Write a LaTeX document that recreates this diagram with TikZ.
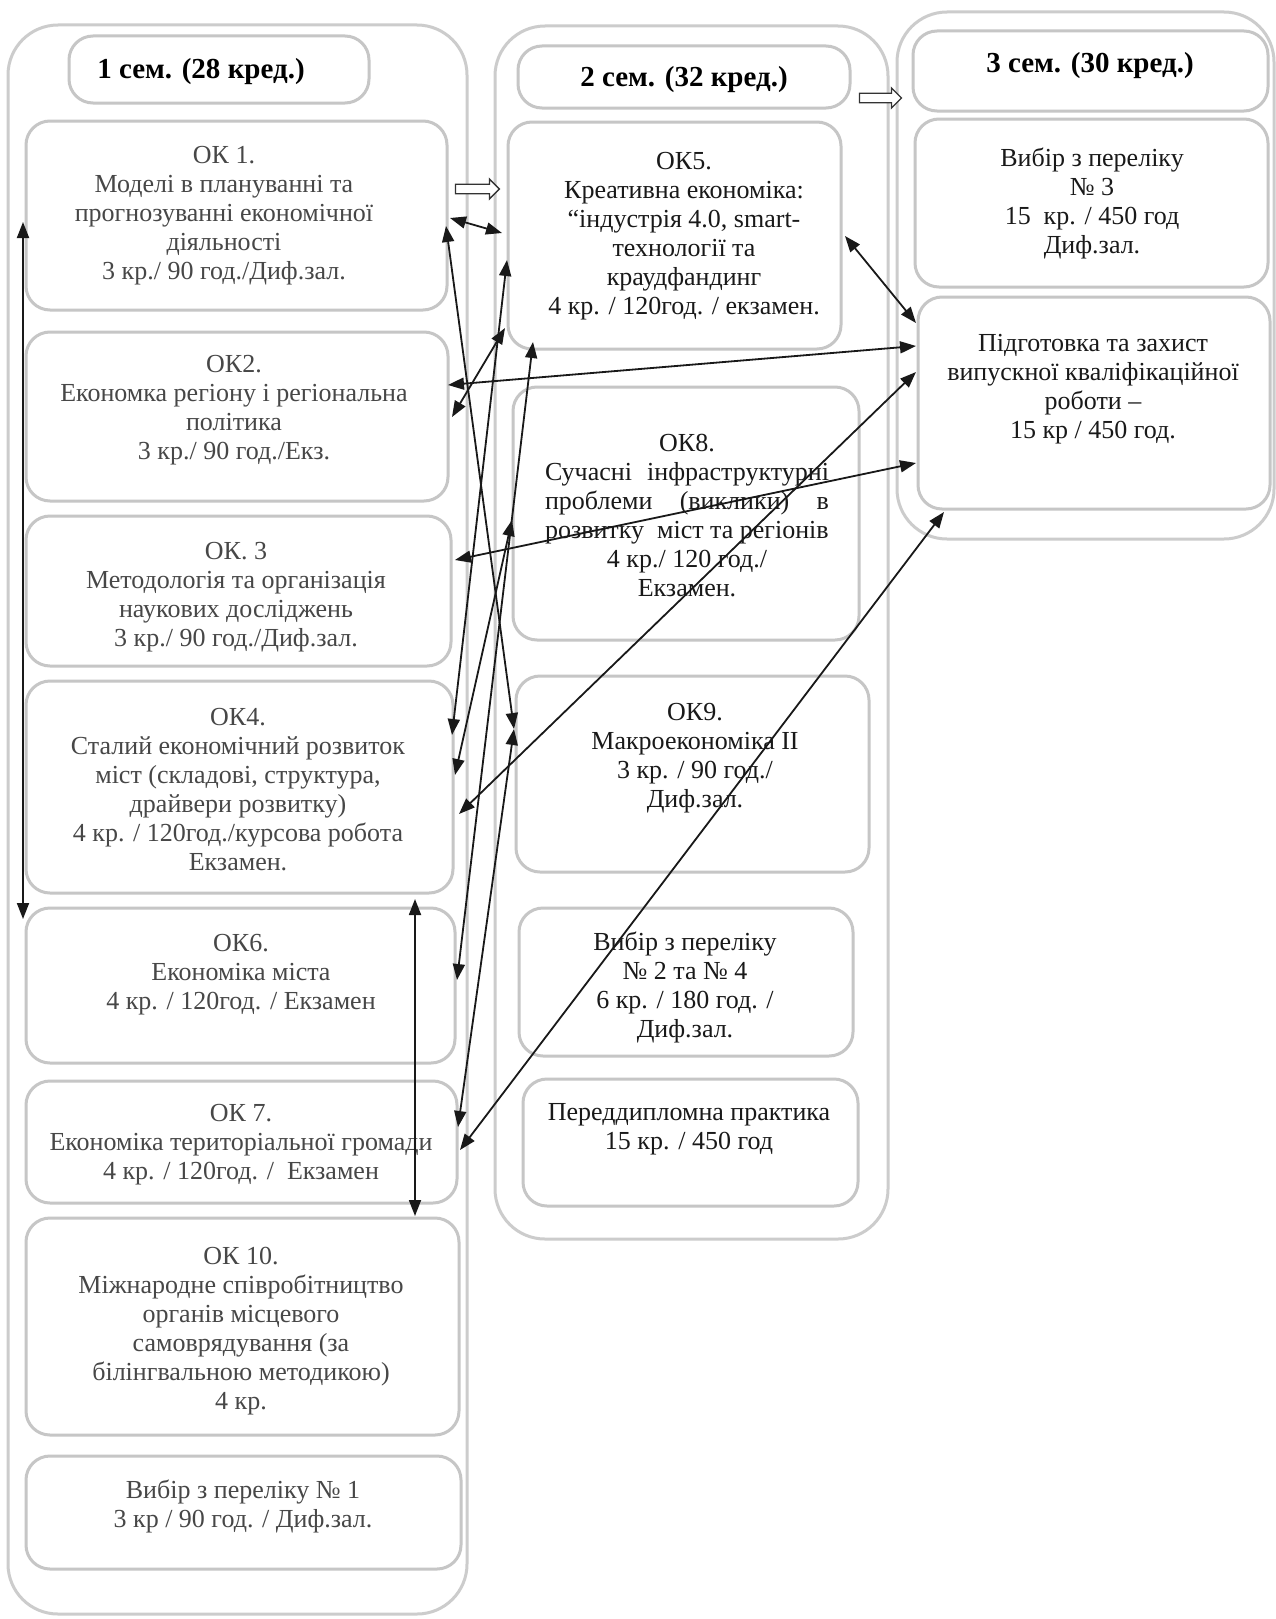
\documentclass[tikz,border=0pt]{standalone}
\usepackage{fontspec}
\setmainfont{Liberation Serif}
\usetikzlibrary{arrows.meta,shapes.arrows}
\newcommand\BoxC[5]{\node[box, minimum width={(#4-#2)*1pt}, minimum height={(#5-#3)*1pt}] (#1) at ({(#2+#4)/2},{(#3+#5)/2}) {};}
\newcommand\OuterC[5]{\node[outerbox, minimum width={(#4-#2)*1pt}, minimum height={(#5-#3)*1pt}] (#1) at ({(#2+#4)/2},{(#3+#5)/2}) {};}
\begin{document}
\begin{tikzpicture}[x=1pt,y=-1pt,
  box/.style={draw=gray!45, line width=3pt, rounded corners=24pt, inner sep=0pt, rectangle},
  outerbox/.style={draw=gray!40, line width=3pt, rounded corners=50pt, inner sep=0pt, rectangle},
  txt/.style={align=center, font=\fontsize{26}{29}\selectfont, inner sep=0pt, text=black!90},
  ltxt/.style={txt, text=black!72},
  hdr/.style={font=\fontsize{29}{34}\selectfont\bfseries, inner sep=0pt},
  link/.style={{Triangle[length=16pt,width=12pt]}-{Triangle[length=16pt,width=12pt]}, line width=1.8pt, draw=black!90},
  hollow/.style={single arrow, draw=black!80, line width=1.3pt, fill=white, minimum width=20pt, single arrow head extend=5pt, inner sep=4pt}
]
\useasboundingbox (0,0) rectangle (1276,1619);
\fill[white] (0,0) rectangle (1276,1619);

% outer containers
\OuterC{c1}{8}{25}{467}{1614}
\OuterC{c2}{495}{26}{888}{1239}
\OuterC{c3}{897}{12}{1274}{539}

% column 1 boxes
\BoxC{h1}{69}{36}{369}{103}
\BoxC{ok1}{26}{121}{447}{310}
\BoxC{ok2}{26}{332}{448}{501}
\BoxC{ok3}{26}{516}{451}{666}
\BoxC{ok4}{26}{681}{453}{893}
\BoxC{ok6}{26}{908}{455}{1063}
\BoxC{ok7}{26}{1081}{457}{1203}
\BoxC{ok10}{26}{1218}{459}{1435}
\BoxC{vb1}{26}{1456}{461}{1569}

% column 2 boxes
\BoxC{h2}{518}{46}{850}{108}
\BoxC{ok5}{508}{122}{841}{349}
\BoxC{ok8}{513}{387}{859}{640}
\BoxC{ok9}{516}{676}{869}{872}
\BoxC{vb24}{519}{908}{853}{1056}
\BoxC{prd}{523}{1079}{858}{1206}

% column 3 boxes
\BoxC{h3}{913}{31}{1268}{111}
\BoxC{vb3}{915}{119}{1268}{287}
\BoxC{pid}{918}{297}{1270}{509}

% texts
\node[hdr] (t1h) at (201,72) {1 сем. (28 кред.)};
\node[hdr] (t2h) at (684,80) {2 сем. (32 кред.)};
\node[hdr] (t3h) at (1090,66) {3 сем. (30 кред.)};

\node[ltxt] (tok1) at (224,216) {ОК 1.\\Моделі в плануванні та\\прогнозуванні економічної\\діяльності\\3 кр./ 90 год./Диф.зал.};
\node[ltxt] (tok2) at (234,410) {ОК2.\\Економка регіону і регіональна\\політика\\3 кр./ 90 год./Екз.};
\node[ltxt] (tok3) at (236,597) {ОК. 3\\Методологія та організація\\наукових досліджень\\3 кр./ 90 год./Диф.зал.};
\node[ltxt] (tok4) at (238,790) {ОК4.\\Сталий економічний розвиток\\міст (складові, структура,\\драйвери розвитку)\\4 кр. / 120год./курсова робота\\Екзамен.};
\node[ltxt] (tok6) at (241,975) {ОК6.\\Економіка міста\\4 кр. / 120год. / Екзамен};
\node[ltxt] (tok7) at (241,1145) {ОК 7.\\Економіка територіальної громади\\4 кр. / 120год. /\ \ Екзамен};
\node[ltxt] (tok10) at (241,1331) {ОК 10.\\Міжнародне співробітництво\\органів місцевого\\самоврядування (за\\білінгвальною методикою)\\4 кр.};
\node[ltxt] (tvb1) at (243,1506) {Вибір з переліку № 1\\3 кр / 90 год. / Диф.зал.};

\node[txt] (tok5) at (684,236) {ОК5.\\Креативна економіка:\\“індустрія 4.0, smart-\\технології та\\краудфандинг\\4 кр. / 120год. / екзамен.};
\node[txt] (tok8) at (687,516) {ОК8.\\\makebox[284pt]{Сучасні\hfill інфраструктурні}\\\makebox[284pt]{проблеми\hfill (виклики)\hfill в}\\\makebox[284pt][l]{розвитку\ \ міст та регіонів}\\4 кр./ 120 год./\\Екзамен.};
\node[txt] (tok9) at (695,758) {ОК9.\\Макроекономіка II\\3 кр. / 90 год./\\Диф.зал.};
\node[txt] (tvb24) at (685,987) {Вибір з переліку\\№ 2 та № 4\\6 кр. / 180 год. /\\Диф.зал.};
\node[txt] (tprd) at (689,1129) {Переддипломна практика\\15 кр. / 450 год};

\node[txt] (tvb3) at (1092,203) {Вибір з переліку\\№ 3\\15\ \ кр. / 450 год\\Диф.зал.};
\node[txt] (tpid) at (1093,389) {Підготовка та захист\\випускної кваліфікаційної\\роботи –\\15 кр / 450 год.};

% hollow arrows
\node[hollow, minimum height=44pt] (ha1) at (475,189) {};
\node[hollow, minimum height=42pt] (ha2) at (878,98) {};

% connector end points
\coordinate (a1) at (446,226); \coordinate (a2) at (514,729);
\coordinate (b1) at (507,260); \coordinate (b2) at (452,735);
\coordinate (c1p) at (505,328); \coordinate (c2p) at (452,417);
\coordinate (d1) at (533,342); \coordinate (d2) at (457,980);
\coordinate (e1) at (514,729); \coordinate (e2) at (458,1127);
\coordinate (f1) at (916,372); \coordinate (f2) at (459,814);
\coordinate (g1) at (916,463); \coordinate (g2) at (455,560);
\coordinate (h1p) at (916,346); \coordinate (h2p) at (448,385);
\coordinate (i1) at (916,323); \coordinate (i2) at (845,236);
\coordinate (j1) at (944,512); \coordinate (j2) at (460,1150);
\coordinate (k1) at (450,218); \coordinate (k2) at (502,233);
\coordinate (l1) at (512,520); \coordinate (l2) at (455,775);
\coordinate (v1a) at (23,222); \coordinate (v1b) at (23,919);
\coordinate (v2a) at (415,899); \coordinate (v2b) at (415,1216);

\draw[link] (a1) -- (a2);
\draw[link] (b1) -- (b2);
\draw[link] (c1p) -- (c2p);
\draw[link] (d1) -- (d2);
\draw[link] (e1) -- (e2);
\draw[link] (f1) -- (f2);
\draw[link] (g1) -- (g2);
\draw[link] (h1p) -- (h2p);
\draw[link] (i1) -- (i2);
\draw[link] (j1) -- (j2);
\draw[link] (k1) -- (k2);
\draw[link] (l1) -- (l2);
\draw[link] (v1a) -- (v1b);
\draw[link] (v2a) -- (v2b);
\end{tikzpicture}
\end{document}
